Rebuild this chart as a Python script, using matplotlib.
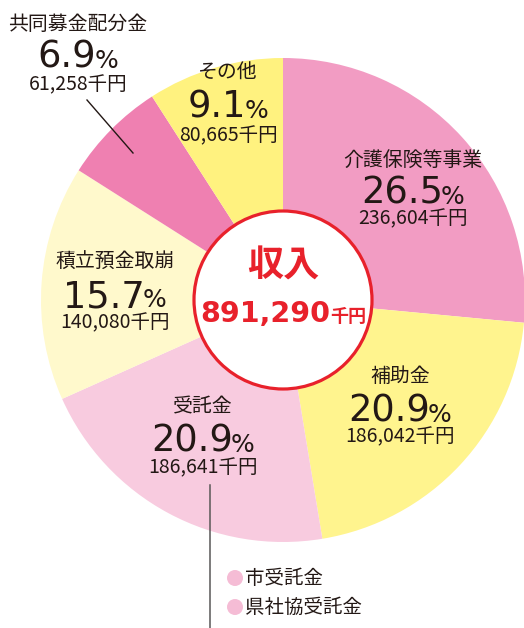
import matplotlib.pyplot as plt
from matplotlib.patches import Circle

plt.rcParams['font.family'] = ['Noto Sans CJK JP', 'DejaVu Sans']

# data
categories = ['介護保険等事業', '補助金', '受託金', '積立預金取崩', '共同募金配分金', 'その他']
percents = [26.5, 20.9, 20.9, 15.7, 6.9, 9.1]
amounts = [236604, 186042, 186641, 140080, 61258, 80665]
total = 891290
sub_items = ['市受託金', '県社協受託金']

colors = ['#F29CC3', '#FFF48E', '#F8CBDF', '#FFF9CC', '#EF80B1', '#FFF27F']
ink = '#231815'
red = '#E8212B'

W, H = 524, 628
fig = plt.figure(figsize=(W / 100, H / 100), dpi=100)
ax = fig.add_axes([0, 0, 1, 1])


def Y(y):
    return H - y


cx, cy, R = 283, 300, 242
ax.pie(percents, colors=colors, radius=R, center=(cx, Y(cy)),
       startangle=90, counterclock=False,
       wedgeprops=dict(linewidth=0))
ax.set_xlim(0, W)
ax.set_ylim(0, H)
ax.set_aspect('equal')
ax.axis('off')

# centre disc
ax.add_patch(Circle((cx, Y(cy)), 89, facecolor='white', edgecolor=red, lw=2.3, zorder=3))

# label layout (pixel positions): label centre, percent baseline, amount centre
layout = [
    (413, 160, 204, 219),
    (400, 377, 422, 437),
    (203, 407, 452, 468),
    (115, 262, 307, 323),
    (78, 24, 68, 85),
    (228, 73, 118, 136),
]

fig.canvas.draw()
renderer = fig.canvas.get_renderer()


def pair(x, y, big, small, big_kw, small_kw, gap=-1):
    t1 = ax.text(0, Y(y), big, ha='left', va='baseline', zorder=5, **big_kw)
    t2 = ax.text(0, Y(y), small, ha='left', va='baseline', zorder=5, **small_kw)
    w1 = t1.get_window_extent(renderer).width
    w2 = t2.get_window_extent(renderer).width
    left = x - (w1 + w2 + gap) / 2
    t1.set_x(left)
    t2.set_x(left + w1 + gap)


for name, pct, amt, (x, ly, py, ay) in zip(categories, percents, amounts, layout):
    ax.text(x, Y(ly), name, ha='center', va='center', fontsize=14.3, color=ink, zorder=5)
    pair(x, py, f'{pct:.1f}', '%',
         dict(fontsize=26.5, color=ink, family='DejaVu Sans'),
         dict(fontsize=18, color=ink, family='DejaVu Sans'), gap=-2)
    ax.text(x, Y(ay), f'{amt:,}千円', ha='center', va='center', fontsize=14, color=ink, zorder=5)

# centre text
ax.text(cx, Y(266), '収入', ha='center', va='center', fontsize=26, fontweight='bold',
        color=red, zorder=5)
pair(cx, 322, f'{total:,}', '千円',
     dict(fontsize=20.5, color=red, fontweight='bold', family='DejaVu Sans'),
     dict(fontsize=13, color=red, fontweight='bold'), gap=0)

# leader lines
ax.plot([87, 133], [Y(100), Y(153)], color=ink, lw=1.0, zorder=4)
ax.plot([210, 210], [Y(485), Y(628)], color='#595757', lw=1.1, zorder=4)

# sub items of 受託金
for i, item in enumerate(sub_items):
    yy = 578 + 29 * i
    ax.add_patch(Circle((235, Y(yy)), 8, facecolor='#F5BCD5', edgecolor='none', zorder=5))
    ax.text(245, Y(yy), item, ha='left', va='center', fontsize=14, color=ink, zorder=5)

fig.savefig('out.png', dpi=100)
